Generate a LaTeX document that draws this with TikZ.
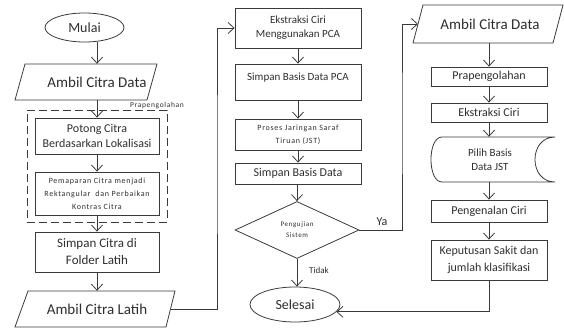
\documentclass[tikz,border=0pt]{standalone}
\usepackage{fontspec}
\setmainfont{Carlito}
\newfontfamily\spacedface[LetterSpace=9]{Carlito}
\usetikzlibrary{arrows.meta,calc,shapes.geometric}
\definecolor{ink}{HTML}{2E2E2E}
\definecolor{rule}{HTML}{3A3A3A}
\newcommand{\fsz}[2]{\fontsize{#1}{#2}\selectfont}
\tikzset{
  line/.style={draw=rule, line width=0.8pt},
  arr/.style={line, -{Straight Barb[length=6pt,width=11pt,line width=0.8pt]}},
  box/.style={line, rectangle, inner sep=0pt, align=center, text=ink},
  oval/.style={line, ellipse, inner sep=0pt, text=ink},
  caption/.style={inner sep=0pt, align=center, text=ink},
  dashbox/.style={line, dash pattern=on 8pt off 4pt, rectangle, inner sep=0pt},
}
\begin{document}
\begin{tikzpicture}[x=1pt,y=-1pt]
\useasboundingbox (0,0) rectangle (564,331);

% ---------- left column: preparing the training images ----------
\node[oval, minimum width=79pt, minimum height=29pt, font=\fsz{14}{17}] (mulai) at (84.5,27.5) {Mulai};

\node[caption, minimum width=100pt, minimum height=36pt, font=\fsz{15}{18}] (ambil1) at (97,82) {Ambil Citra Data};
\draw[line] ($(ambil1.center)+(-72,-18)$) -- ($(ambil1.center)+(60,-18)$)
  -- ($(ambil1.center)+(50,18)$) -- ($(ambil1.center)+(-82,18)$) -- cycle;

\node[dashbox, minimum width=140pt, minimum height=112pt] (grp) at (97,166) {};
\node[caption, anchor=base, font=\spacedface\fsz{7.5}{9}] (praplbl) at (157,108) {Prapengolahan};

\node[box, minimum width=124pt, minimum height=36pt, font=\fsz{12}{15}] (potong) at (97,136) {Potong Citra\\Berdasarkan Lokalisasi};
\node[box, minimum width=124pt, minimum height=43pt, font=\spacedface\fsz{8}{13}] (papar) at (97,193.5) {Pemaparan Citra menjadi\\Rektangular\ \ dan Perbaikan\\Kontras Citra};
\node[box, minimum width=124pt, minimum height=40pt, font=\fsz{13}{17}] (simpan1) at (97,252) {Simpan Citra di\\Folder Latih};

\node[caption, minimum width=100pt, minimum height=36pt, font=\fsz{15}{18}] (ambil2) at (97,309) {Ambil Citra Latih};
\draw[line] ($(ambil2.center)+(-69,-18)$) -- ($(ambil2.center)+(78,-18)$)
  -- ($(ambil2.center)+(69,18)$) -- ($(ambil2.center)+(-82,18)$) -- cycle;
\coordinate (ambil2e) at ($(ambil2.center)+(73.5,0)$);

% ---------- middle column: PCA features and network training ----------
\node[box, minimum width=126pt, minimum height=40pt, font=\fsz{11}{14}] (ekstr) at (298,28) {Ekstraksi Ciri\\Menggunakan PCA};
\node[box, minimum width=126pt, minimum height=36pt, text height=17pt, text depth=19pt, font=\fsz{11}{14}] (spca) at (298,82) {Simpan Basis Data PCA};
\node[box, minimum width=126pt, minimum height=31pt, font=\spacedface\fsz{8}{13}] (jst) at (298,134.5) {Proses Jaringan Saraf\\Tiruan (JST)};
\node[box, minimum width=126pt, minimum height=21pt, font=\fsz{12}{14}] (sbd) at (298,173.5) {Simpan Basis Data};
\node[line, diamond, minimum width=124pt, minimum height=57pt, inner sep=0pt, align=center, text=ink, font=\spacedface\fsz{7}{11}] (uji) at (297,230) {Pengujian\\Sistem};
\node[oval, minimum width=90pt, minimum height=35pt, font=\fsz{14}{17}] (selesai) at (295,304.5) {Selesai};

\node[caption, font=\fsz{12}{14}] (ya) at (382,222) {Ya};
\node[caption, font=\fsz{9}{11}] (tidak) at (319,270) {Tidak};

% ---------- right column: testing and classification ----------
\node[caption, minimum width=100pt, minimum height=38pt, font=\fsz{15}{18}] (ambil3) at (490,24) {Ambil Citra Data};
\draw[line] ($(ambil3.center)+(-67,-19)$) -- ($(ambil3.center)+(73,-19)$)
  -- ($(ambil3.center)+(63,19)$) -- ($(ambil3.center)+(-77,19)$) -- cycle;
\coordinate (ambil3w) at ($(ambil3.center)+(-72,0)$);

\node[box, minimum width=116pt, minimum height=19pt, font=\fsz{12}{14}] (prap) at (489,76.5) {Prapengolahan};
\node[box, minimum width=116pt, minimum height=19pt, font=\fsz{12}{14}] (ekst) at (489,112.5) {Ekstraksi Ciri};

\node[caption, minimum width=100pt, minimum height=45pt, font=\fsz{11}{14}] (pilih) at (490,159.5) {Pilih Basis\\Data JST};
\draw[line, shift={(pilih.center)}] (-48,-22.5) -- (65,-22.5)
  .. controls (38.3,-22.5) and (38.3,22.5) .. (65,22.5) -- (-48,22.5)
  .. controls (-62.7,22.5) and (-62.7,-22.5) .. (-48,-22.5) -- cycle;

\node[box, minimum width=116pt, minimum height=22pt, font=\fsz{12}{14}] (peng) at (489,211) {Pengenalan Ciri};
\node[box, minimum width=116pt, minimum height=40pt, font=\fsz{12}{17}] (kep) at (489,260) {Keputusan Sakit dan\\jumlah klasifikasi};

% ---------- connectors ----------
\coordinate (turnL) at (217,160);
\coordinate (turnR) at (402,120);

\draw[arr] (ambil1.north |- mulai.south) -- (ambil1.north);
\draw[arr] (ambil1.south) -- (potong.north);
\draw[arr] (potong.south) -- (papar.north);
\draw[arr] (papar.south) -- (simpan1.north);
\draw[arr] (simpan1.south) -- (ambil2.north);
\draw[arr] (ambil2e) -| (turnL) |- (ekstr.west);

\draw[arr] (ekstr.south) -- (spca.north);
\draw[arr] (spca.south) -- (jst.north);
\draw[arr] (jst.south) -- (sbd.north);
\draw[arr] (uji.north |- sbd.south) -- (uji.north);
\draw[arr] (uji.south) -- (uji.south |- selesai.north);
\draw[arr] (uji.east) -| (turnR) |- (ambil3w);

\draw[arr] (prap.north |- ambil3.south) -- (prap.north);
\draw[arr] (prap.south) -- (ekst.north);
\draw[arr] (ekst.south) -- (ekst.south |- pilih.north);
\draw[arr] (peng.north |- pilih.south) -- (peng.north);
\draw[arr] (peng.south) -- (kep.north);
\draw[arr] (kep.south) |- (selesai.-10);
\end{tikzpicture}
\end{document}
